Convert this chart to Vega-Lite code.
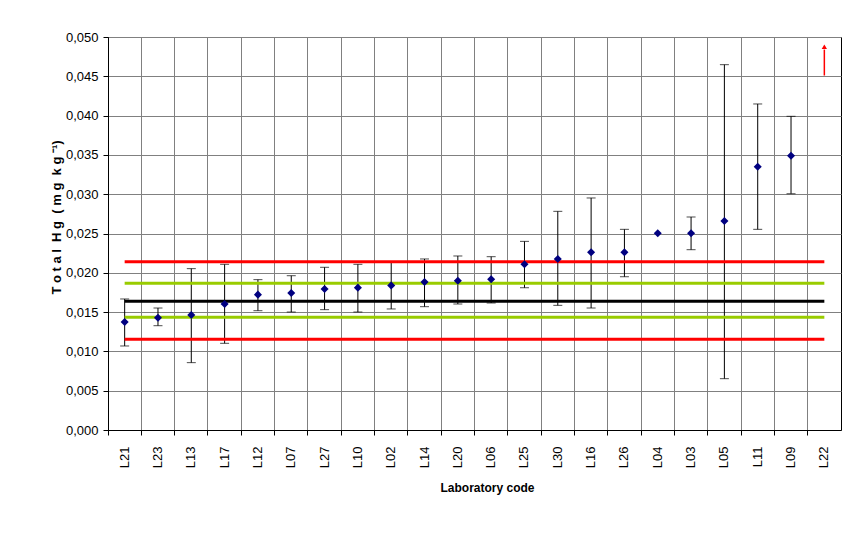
{
  "$schema": "https://vega.github.io/schema/vega-lite/v6.json",
  "autosize": {"type": "none"},
  "width": 733,
  "height": 393,
  "padding": {"left": 108, "top": 37, "right": 23, "bottom": 103},
  "background": "white",
  "config": {
    "font": "Liberation Sans",
    "view": {"stroke": "#000000", "strokeWidth": 1},
    "axis": {"labelFont": "Liberation Sans", "titleFont": "Liberation Sans", "labelColor": "#000", "titleColor": "#000", "domainColor": "#000", "tickColor": "#000", "gridColor": "#808080", "gridOpacity": 1, "tickSize": 5, "grid": true, "labelOverlap": false},
    "axisY": {"labelFontSize": 13, "labelPadding": 5, "titleFontSize": 13, "titleFontWeight": "bold", "titlePadding": 2, "tickCount": 10, "labelOverlap": false, "labelBound": false},
    "axisX": {"labelFontSize": 13, "labelPadding": 11, "titleFontSize": 12, "titleFontWeight": "bold", "titlePadding": 15}
  },
  "datasets": {
    "labs": [
      {"lab": "L21", "value": 0.01374, "lo": 0.01069, "hi": 0.01667},
      {"lab": "L23", "value": 0.01429, "lo": 0.01327, "hi": 0.01552},
      {"lab": "L13", "value": 0.01463, "lo": 0.00857, "hi": 0.02053},
      {"lab": "L17", "value": 0.01603, "lo": 0.01103, "hi": 0.02108},
      {"lab": "L12", "value": 0.01722, "lo": 0.01518, "hi": 0.01913},
      {"lab": "L07", "value": 0.01743, "lo": 0.01501, "hi": 0.01963},
      {"lab": "L27", "value": 0.01794, "lo": 0.01531, "hi": 0.0207},
      {"lab": "L10", "value": 0.01811, "lo": 0.01501, "hi": 0.02108},
      {"lab": "L02", "value": 0.0184, "lo": 0.0154, "hi": 0.02142},
      {"lab": "L14", "value": 0.01883, "lo": 0.01569, "hi": 0.02176},
      {"lab": "L20", "value": 0.019, "lo": 0.01603, "hi": 0.02214},
      {"lab": "L06", "value": 0.01917, "lo": 0.01616, "hi": 0.02205},
      {"lab": "L25", "value": 0.02108, "lo": 0.0181, "hi": 0.024},
      {"lab": "L30", "value": 0.02176, "lo": 0.01586, "hi": 0.02782},
      {"lab": "L16", "value": 0.02261, "lo": 0.01552, "hi": 0.02952},
      {"lab": "L26", "value": 0.02261, "lo": 0.0195, "hi": 0.02553},
      {"lab": "L04", "value": 0.02502, "lo": null, "hi": null},
      {"lab": "L03", "value": 0.02502, "lo": 0.02294, "hi": 0.0271},
      {"lab": "L05", "value": 0.02659, "lo": 0.00653, "hi": 0.04648},
      {"lab": "L11", "value": 0.0335, "lo": 0.02553, "hi": 0.04148},
      {"lab": "L09", "value": 0.0349, "lo": 0.03006, "hi": 0.03991},
      {"lab": "L22", "value": null, "lo": null, "hi": null}
    ],
    "refs": [
      {"lab": "L21", "line": "upper action", "v": 0.02142},
      {"lab": "L22", "line": "upper action", "v": 0.02142},
      {"lab": "L21", "line": "upper warning", "v": 0.01866},
      {"lab": "L22", "line": "upper warning", "v": 0.01866},
      {"lab": "L21", "line": "assigned", "v": 0.01637},
      {"lab": "L22", "line": "assigned", "v": 0.01637},
      {"lab": "L21", "line": "lower warning", "v": 0.01433},
      {"lab": "L22", "line": "lower warning", "v": 0.01433},
      {"lab": "L21", "line": "lower action", "v": 0.01154},
      {"lab": "L22", "line": "lower action", "v": 0.01154}
    ],
    "arrow": [
      {"lab": "L22", "from": 0.0451, "to": 0.0484, "tip": 0.04875}
    ]
  },
  "encoding": {
    "x": {
      "field": "lab", "type": "nominal", "sort": null,
      "scale": {"domain": ["L21","L23","L13","L17","L12","L07","L27","L10","L02","L14","L20","L06","L25","L30","L16","L26","L04","L03","L05","L11","L09","L22"], "paddingInner": 0, "paddingOuter": 0},
      "axis": {"title": "Laboratory code", "titleX": 379, "labelAngle": -90, "bandPosition": 0, "labelBaseline": "middle"}
    }
  },
  "layer": [
    {
      "data": {"name": "labs"},
      "mark": {"type": "rule", "color": "#000000", "strokeWidth": 1},
      "encoding": {
        "y": {"field": "lo", "type": "quantitative",
          "scale": {"domain": [0, 0.05], "nice": false, "zero": true},
          "axis": {"title": "T o t a l \u00a0H g \u00a0( m g \u00a0k g ⁻¹)", "titleY": 180, "labelExpr": "replace(format(datum.value, '.3f'), '.', ',')"}},
        "y2": {"field": "hi"}
      }
    },
    {
      "data": {"name": "labs"},
      "mark": {"type": "tick", "orient": "horizontal", "color": "#000000", "size": 9, "thickness": 1},
      "encoding": {"y": {"field": "lo", "type": "quantitative"}}
    },
    {
      "data": {"name": "labs"},
      "mark": {"type": "tick", "orient": "horizontal", "color": "#000000", "size": 9, "thickness": 1},
      "encoding": {"y": {"field": "hi", "type": "quantitative"}}
    },
    {
      "data": {"name": "refs"},
      "mark": {"type": "line", "strokeWidth": 3},
      "encoding": {
        "y": {"field": "v", "type": "quantitative"},
        "color": {"field": "line", "type": "nominal", "legend": null,
          "scale": {"domain": ["upper action","upper warning","assigned","lower warning","lower action"], "range": ["#ff0000","#99cc00","#000000","#99cc00","#ff0000"]}}
      }
    },
    {
      "data": {"name": "labs"},
      "mark": {"type": "point", "shape": "diamond", "filled": true, "color": "#000080", "size": 65, "opacity": 1},
      "encoding": {"y": {"field": "value", "type": "quantitative"}}
    },
    {
      "data": {"name": "arrow"},
      "mark": {"type": "rule", "color": "#ff0000", "strokeWidth": 1.5},
      "encoding": {"y": {"field": "from", "type": "quantitative"}, "y2": {"field": "to"}}
    },
    {
      "data": {"name": "arrow"},
      "mark": {"type": "point", "shape": "triangle-up", "filled": true, "color": "#ff0000", "size": 28, "opacity": 1},
      "encoding": {"y": {"field": "tip", "type": "quantitative"}}
    }
  ]
}
